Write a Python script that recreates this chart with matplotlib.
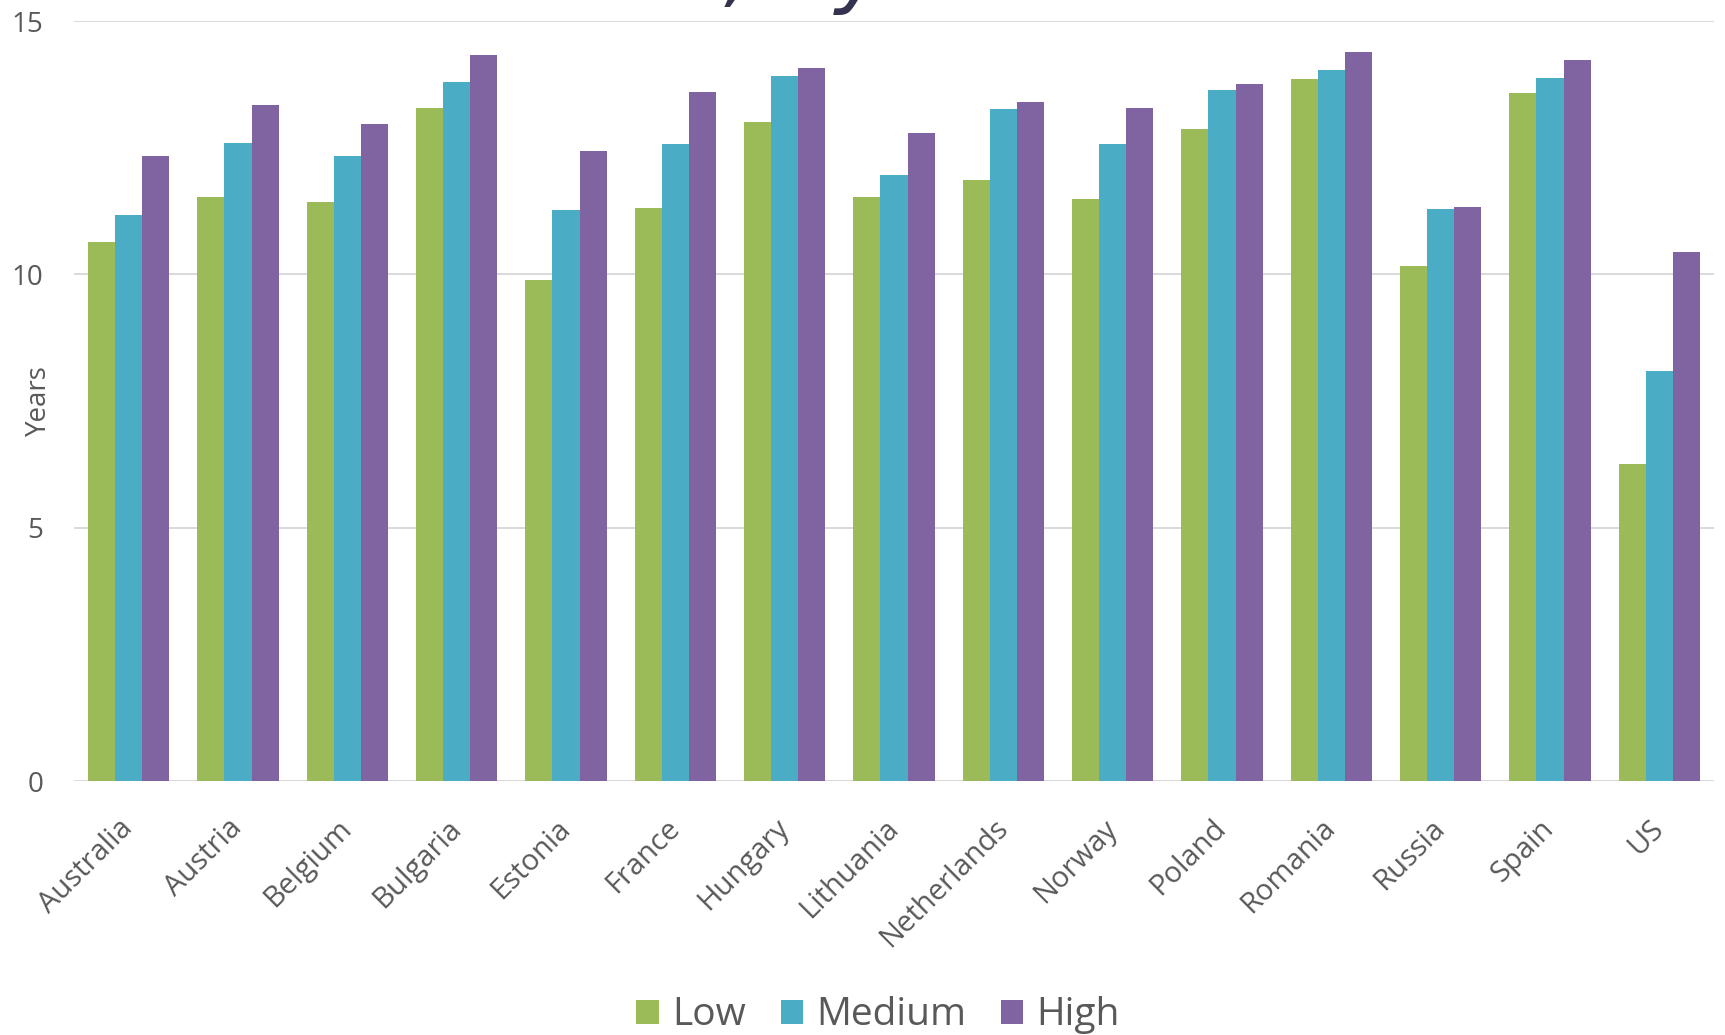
import numpy as np
import matplotlib
matplotlib.use("Agg")
import matplotlib.pyplot as plt

countries = ["Australia", "Austria", "Belgium", "Bulgaria", "Estonia", "France",
             "Hungary", "Lithuania", "Netherlands", "Norway", "Poland", "Romania",
             "Russia", "Spain", "US"]
low = [10.64, 11.53, 11.43, 13.28, 9.88, 11.31, 13.00, 11.53, 11.87, 11.48,
       12.87, 13.85, 10.16, 13.57, 6.25]
medium = [11.18, 12.60, 12.34, 13.80, 11.27, 12.57, 13.91, 11.96, 13.26, 12.57,
          13.63, 14.04, 11.29, 13.88, 8.10]
high = [12.34, 13.35, 12.97, 14.33, 12.44, 13.59, 14.07, 12.78, 13.41, 13.28,
        13.76, 14.39, 11.32, 14.24, 10.44]
series_names = ["Low", "Medium", "High"]
yticks = [0, 5, 10, 15]

colors = ["#9bbb59", "#4bacc6", "#8064a2"]
text_gray = "#595959"
grid_gray = "#d9d9d9"

plt.rcParams["font.family"] = ["Open Sans", "DejaVu Sans"]

W, H = 1725, 1035
fig = plt.figure(figsize=(W / 100, H / 100), dpi=100)
ax = fig.add_axes([74 / W, 1 - 781 / H, 1640 / W, 760 / H])

x = np.arange(len(countries))
bw = 0.248
for i, (vals, name) in enumerate(zip([low, medium, high], series_names)):
    ax.bar(x + (i - 1) * bw, vals, bw, color=colors[i], label=name,
           edgecolor="none", zorder=3)

ax.set_xlim(-0.5, len(countries) - 0.5)
ax.set_ylim(0, 15)
ax.set_yticks(yticks)
ax.set_yticklabels([str(v) for v in yticks])
ax.yaxis.grid(True, color=grid_gray, linewidth=1.4, zorder=0)
ax.set_axisbelow(True)
for s in ax.spines.values():
    s.set_visible(False)

ax.set_xticks(x)
ax.set_xticklabels(countries, rotation=45, ha="right", va="center",
                   rotation_mode="anchor")
ax.tick_params(axis="x", length=0, pad=31, labelsize=21, labelcolor=text_gray)
ax.tick_params(axis="y", length=0, pad=22, labelsize=20, labelcolor=text_gray)
ax.set_ylabel("Years", fontsize=20, color=text_gray)
ax.yaxis.set_label_coords(-0.013, 0.5)

leg = fig.legend(loc="center", bbox_to_anchor=(0.509, 0.019), ncol=3,
                 frameon=False, fontsize=28, handlelength=0.57,
                 handleheight=0.57, handletextpad=0.34, columnspacing=0.9)
for t in leg.get_texts():
    t.set_color(text_gray)

# Chart heading running off the top edge
fig.text(218 / W, 1 + 3 / H, "Years of life, by education", ha="left",
         va="baseline", fontsize=63, style="italic", color="#33334f",
         family="DejaVu Sans")

fig.savefig("out.png", dpi=100)
